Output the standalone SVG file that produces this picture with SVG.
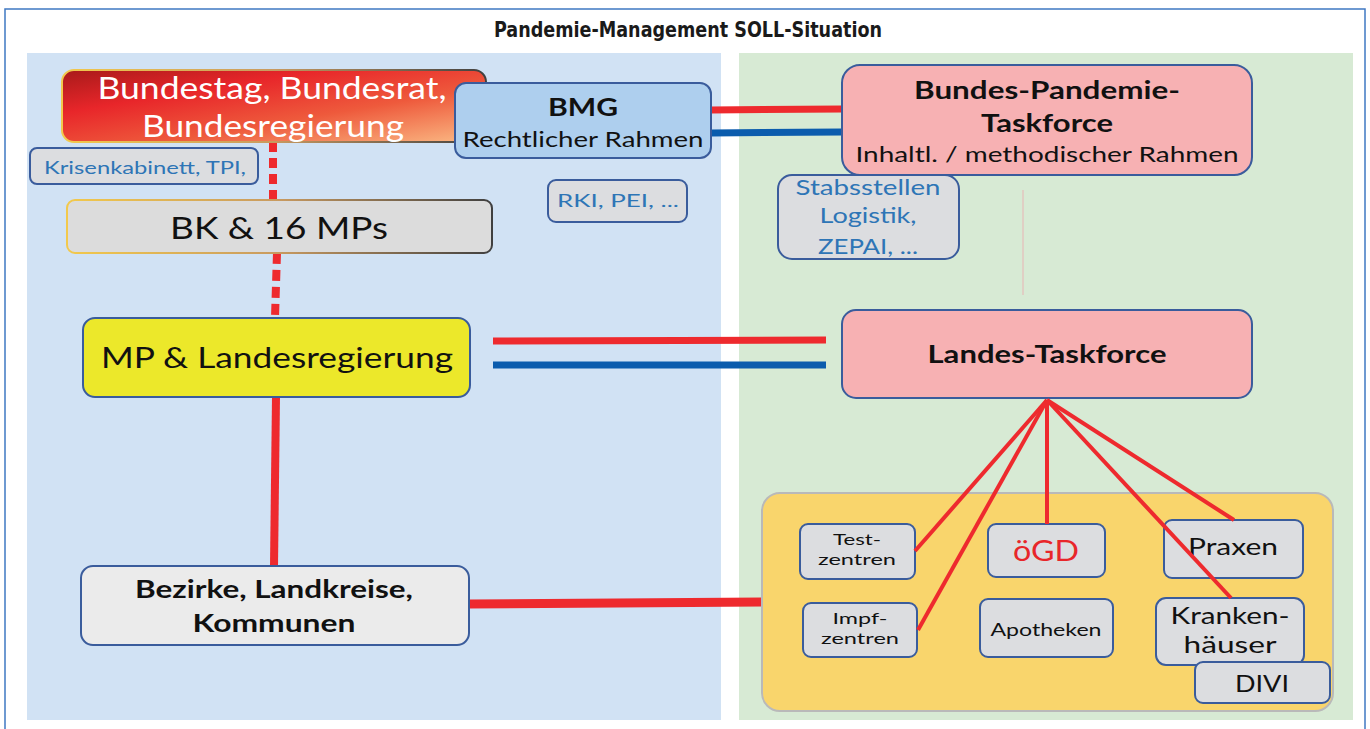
<svg xmlns="http://www.w3.org/2000/svg" width="1370" height="729" viewBox="0 0 1370 729">
<defs>
<linearGradient id="gBT" x1="0" y1="0" x2="1" y2="1">
<stop offset="0" stop-color="#a81a1a"/>
<stop offset="0.3" stop-color="#e8262a"/>
<stop offset="0.62" stop-color="#ee5a3c"/>
<stop offset="1" stop-color="#fbbc86"/>
</linearGradient>
<linearGradient id="gBorder" x1="0" y1="0" x2="1" y2="0">
<stop offset="0" stop-color="#f2c94c"/>
<stop offset="0.5" stop-color="#c89a60"/>
<stop offset="1" stop-color="#404040"/>
</linearGradient>
<style>
.t{font-family:Lato,"Open Sans","Liberation Sans",sans-serif;text-anchor:middle}
.b{font-weight:bold}
.blue{fill:#2e75b6}
.box{stroke:#3a5c9c;stroke-width:2}
.gray{fill:#dcdde0}
.red{stroke:#ee2a2e;fill:none}
.bl{stroke:#0b5cad;fill:none}
</style>
</defs>
<rect x="0" y="0" width="1370" height="729" fill="#ffffff"/>
<rect x="5" y="9" width="1360" height="740" fill="none" stroke="#3f78c2" stroke-width="1.5"/>
<text x="688" y="37" font-family="'DejaVu Sans Condensed','DejaVu Sans',sans-serif" font-weight="bold" font-size="20.5" text-anchor="middle" textLength="388" lengthAdjust="spacingAndGlyphs" fill="#1a1a1a">Pandemie-Management SOLL-Situation</text>

<rect x="27" y="53" width="694" height="667" fill="#d1e2f4"/>
<rect x="739" y="53" width="614" height="667" fill="#d7ead4"/>

<g id="connectors">
<line x1="273" y1="142" x2="273" y2="200" class="red" stroke-width="8" stroke-dasharray="10 6"/>
<polyline points="277,253 276,285 275,318" class="red" stroke-width="8" stroke-dasharray="11 6"/>
<line x1="276" y1="397" x2="274" y2="566" class="red" stroke-width="8"/>
<line x1="711" y1="110" x2="842" y2="109" class="red" stroke-width="7"/>
<line x1="711" y1="133" x2="842" y2="132" class="bl" stroke-width="7"/>
<line x1="493" y1="341" x2="826" y2="340" class="red" stroke-width="7"/>
<line x1="493" y1="365" x2="826" y2="365" class="bl" stroke-width="7"/>
<line x1="469" y1="604" x2="762" y2="602" class="red" stroke-width="9"/>
<line x1="1023" y1="190" x2="1023" y2="295" stroke="#e8b4b4" stroke-width="1"/>
</g>

<g id="bundestag">
<rect x="62" y="70" width="424" height="72" rx="12" fill="url(#gBT)" stroke="url(#gBorder)" stroke-width="2"/>
<text class="t" x="272" y="99" font-size="30" fill="#ffffff" textLength="349" lengthAdjust="spacingAndGlyphs">Bundestag, Bundesrat,</text>
<text class="t" x="273" y="137" font-size="30" fill="#ffffff" textLength="262" lengthAdjust="spacingAndGlyphs">Bundesregierung</text>
</g>

<g id="bmg">
<rect x="455" y="83" width="256" height="75" rx="11" fill="#aecfee" class="box"/>
<text class="t b" x="583" y="116" font-size="24" fill="#111" textLength="70" lengthAdjust="spacingAndGlyphs">BMG</text>
<text class="t" x="583" y="147" font-size="21" fill="#111" textLength="241" lengthAdjust="spacingAndGlyphs">Rechtlicher Rahmen</text>
</g>

<g id="krisenkabinett">
<rect x="30" y="148" width="228" height="36" rx="7" class="box gray"/>
<text class="t blue" x="145" y="174" font-size="17" textLength="202" lengthAdjust="spacingAndGlyphs">Krisenkabinett, TPI,</text>
</g>

<g id="bk16">
<rect x="67" y="200" width="425" height="53" rx="8" fill="#dcdcdc" stroke="url(#gBorder)" stroke-width="2"/>
<text class="t" x="279" y="239" font-size="30" fill="#111" textLength="218" lengthAdjust="spacingAndGlyphs">BK &amp; 16 MPs</text>
</g>

<g id="rki">
<rect x="548" y="180" width="139" height="42" rx="8" class="box gray"/>
<text class="t blue" x="618" y="207" font-size="18" textLength="122" lengthAdjust="spacingAndGlyphs">RKI, PEI, ...</text>
</g>

<g id="bundestaskforce">
<rect x="842" y="65" width="410" height="110" rx="18" fill="#f7b1b3" class="box"/>
<text class="t b" x="1047" y="99" font-size="24" fill="#111" textLength="266" lengthAdjust="spacingAndGlyphs">Bundes-Pandemie-</text>
<text class="t b" x="1047" y="132" font-size="24" fill="#111" textLength="132" lengthAdjust="spacingAndGlyphs">Taskforce</text>
<text class="t" x="1047" y="162" font-size="21" fill="#111" textLength="383" lengthAdjust="spacingAndGlyphs">Inhaltl. / methodischer Rahmen</text>
</g>

<g id="stabsstellen">
<rect x="778" y="175" width="181" height="84" rx="14" class="box gray"/>
<text class="t blue" x="868" y="195" font-size="21" textLength="145" lengthAdjust="spacingAndGlyphs">Stabsstellen</text>
<text class="t blue" x="868" y="223" font-size="21" textLength="97" lengthAdjust="spacingAndGlyphs">Logistik,</text>
<text class="t blue" x="868" y="254" font-size="21" textLength="100" lengthAdjust="spacingAndGlyphs">ZEPAI, ...</text>
</g>

<g id="mp">
<rect x="83" y="318" width="387" height="79" rx="12" fill="#ece82a" class="box"/>
<text class="t" x="277" y="368" font-size="29" fill="#111" textLength="352" lengthAdjust="spacingAndGlyphs">MP &amp; Landesregierung</text>
</g>

<g id="landestaskforce">
<rect x="842" y="310" width="410" height="88" rx="14" fill="#f7b1b3" class="box"/>
<text class="t b" x="1047" y="363" font-size="24" fill="#111" textLength="239" lengthAdjust="spacingAndGlyphs">Landes-Taskforce</text>
</g>

<g id="bezirke">
<rect x="81" y="566" width="388" height="79" rx="12" fill="#ebebeb" class="box"/>
<text class="t b" x="274" y="598" font-size="24" fill="#111" textLength="278" lengthAdjust="spacingAndGlyphs">Bezirke, Landkreise,</text>
<text class="t b" x="274" y="632" font-size="24" fill="#111" textLength="163" lengthAdjust="spacingAndGlyphs">Kommunen</text>
</g>

<g id="versorgung">
<rect x="762" y="493" width="571" height="218" rx="18" fill="#f9d56c" stroke="#b9b9b9" stroke-width="2"/>
</g>

<g id="testzentren">
<rect x="800" y="524" width="115" height="55" rx="8" class="box gray"/>
<text class="t" x="857" y="545" font-size="16" fill="#111" textLength="48" lengthAdjust="spacingAndGlyphs">Test-</text>
<text class="t" x="857" y="565" font-size="16" fill="#111" textLength="78" lengthAdjust="spacingAndGlyphs">zentren</text>
</g>

<g id="impfzentren">
<rect x="803" y="603" width="114" height="54" rx="8" class="box gray"/>
<text class="t" x="860" y="624" font-size="16" fill="#111" textLength="55" lengthAdjust="spacingAndGlyphs">Impf-</text>
<text class="t" x="860" y="644" font-size="16" fill="#111" textLength="78" lengthAdjust="spacingAndGlyphs">zentren</text>
</g>

<g id="oegd">
<rect x="988" y="524" width="117" height="53" rx="8" class="box gray"/>
<text class="t" x="1046" y="561" font-size="28" fill="#e8262a" textLength="66" lengthAdjust="spacingAndGlyphs">öGD</text>
</g>

<g id="apotheken">
<rect x="980" y="599" width="133" height="58" rx="8" class="box gray"/>
<text class="t" x="1046" y="636" font-size="17" fill="#111" textLength="111" lengthAdjust="spacingAndGlyphs">Apotheken</text>
</g>

<g id="praxen">
<rect x="1164" y="520" width="139" height="58" rx="8" class="box gray"/>
<text class="t" x="1233" y="555" font-size="24" fill="#111" textLength="90" lengthAdjust="spacingAndGlyphs">Praxen</text>
</g>

<g id="krankenhaeuser">
<rect x="1156" y="598" width="148" height="67" rx="10" class="box gray"/>
<text class="t" x="1230" y="624" font-size="24" fill="#111" textLength="119" lengthAdjust="spacingAndGlyphs">Kranken-</text>
<text class="t" x="1230" y="653" font-size="24" fill="#111" textLength="93" lengthAdjust="spacingAndGlyphs">häuser</text>
</g>

<g id="divi">
<rect x="1195" y="662" width="135" height="41" rx="8" class="box gray"/>
<text class="t" x="1262" y="692" font-size="24" fill="#111" textLength="54" lengthAdjust="spacingAndGlyphs">DIVI</text>
</g>

<g id="fan-connectors">
<line x1="1047" y1="400" x2="915" y2="551" class="red" stroke-width="4"/>
<line x1="1047" y1="400" x2="918" y2="630" class="red" stroke-width="4"/>
<line x1="1047" y1="400" x2="1047" y2="524" class="red" stroke-width="4"/>
<line x1="1047" y1="400" x2="1234" y2="520" class="red" stroke-width="4"/>
<line x1="1047" y1="400" x2="1231" y2="598" class="red" stroke-width="4"/>
</g>
</svg>
